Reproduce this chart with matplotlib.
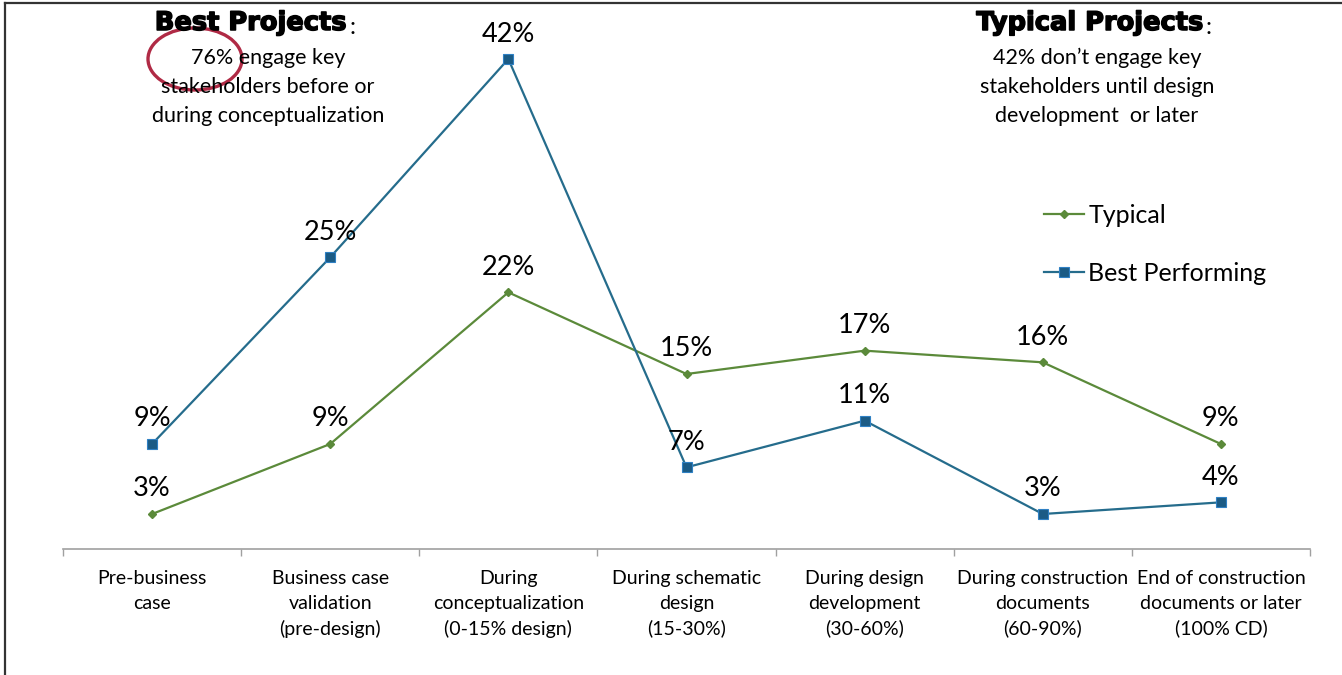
import matplotlib.pyplot as plt
import matplotlib.patheffects as pe
import numpy as np
from matplotlib.patches import Ellipse
from matplotlib.lines import Line2D

stages = [
  "Pre-business\ncase",
  "Business case\nvalidation\n(pre-design)",
  "During\nconceptualization\n(0-15% design)",
  "During schematic\ndesign\n(15-30%)",
  "During design\ndevelopment\n(30-60%)",
  "During construction\ndocuments\n(60-90%)",
  "End of construction\ndocuments or later\n(100% CD)",
]
typical = [3, 9, 22, 15, 17, 16, 9]
best = [9, 25, 42, 7, 11, 3, 4]

GREEN = "#5b8a3a"
BLUE = "#256c8c"
FONT = ["Lato", "DejaVu Sans"]
HEAD = ["DejaVu Sans"]

plt.rcParams['font.family'] = FONT

fig = plt.figure(figsize=(13.42, 6.75), dpi=100)
W, H = 1342, 675
ax = fig.add_axes([63 / W, (H - 549) / H, (1310 - 63) / W, (549 - 24) / H])

x = np.arange(len(stages))
ax.plot(x, typical, color=GREEN, lw=1.6, marker="D", ms=4.5, mfc=GREEN, mec=GREEN,
        label="Typical")
ax.plot(x, best, color=BLUE, lw=1.6, marker="s", ms=6.5, mfc="#1b5b85", mec="#2f80c4",
        mew=0.8, label="Best Performing")

# data labels above every point
for series in (typical, best):
  for xi, v in zip(x, series):
    ax.annotate(f"{v}%", (xi, v), xytext=(0, 9), textcoords="offset points",
                ha="center", va="bottom", fontsize=19.5)

ax.set_xlim(-0.5, len(stages) - 0.5)
ax.set_ylim(0, 45)
ax.set_yticks([])
for s in ["top", "right", "left"]:
  ax.spines[s].set_visible(False)
ax.spines["bottom"].set_color("#a0a0a0")
ax.spines["bottom"].set_linewidth(1.2)

# boundary ticks, labels centred between them
ax.set_xticks(np.arange(-0.5, len(stages), 1))
ax.set_xticklabels([])
ax.tick_params(axis="x", which="major", length=5, width=1, color="#a0a0a0", direction="out")
ax.set_xticks(x, minor=True)
ax.set_xticklabels(stages, minor=True, fontsize=14, linespacing=1.55, va="top")
ax.tick_params(axis="x", which="minor", length=0, pad=15)

leg = ax.legend(loc="upper left", bbox_to_anchor=(0.769, 0.70), frameon=False,
                fontsize=18, labelspacing=1.4, handlelength=1.6, handletextpad=0.15)

# callouts
def heading(cx, title):
  t = fig.text(cx / W, 1 - 23 / H, title, ha="center", va="center", fontsize=18.5,
               fontweight="heavy", family=HEAD,
               path_effects=[pe.withStroke(linewidth=1.1, foreground="black")])
  fig.canvas.draw()
  bb = t.get_window_extent()
  fig.text((bb.x1 + 2) / W, 1 - 27 / H, ":", ha="left", va="center", fontsize=17)

heading(251, "Best Projects")
fig.text(268 / W, 1 - 87 / H, "76% engage key\nstakeholders before or\nduring conceptualization",
         ha="center", va="center", fontsize=15.5, linespacing=1.55)

heading(1090, "Typical Projects")
fig.text(1097 / W, 1 - 87 / H, "42% don\u2019t engage key\nstakeholders until design\ndevelopment  or later",
         ha="center", va="center", fontsize=15.5, linespacing=1.55)

# red circle around 76%
fig.add_artist(Ellipse((195 / W, 1 - 59 / H), 94 / W, 62 / H, transform=fig.transFigure,
                       fill=False, ec="#b02a45", lw=2.4))

# frame on the left and top edges
fig.add_artist(Line2D([5 / W, 5 / W], [0, 1 - 3 / H], transform=fig.transFigure,
                      color="#333333", lw=1.6))
fig.add_artist(Line2D([5 / W, 1], [1 - 3 / H, 1 - 3 / H], transform=fig.transFigure,
                      color="#333333", lw=1.6))

fig.savefig("out.png", dpi=100)
